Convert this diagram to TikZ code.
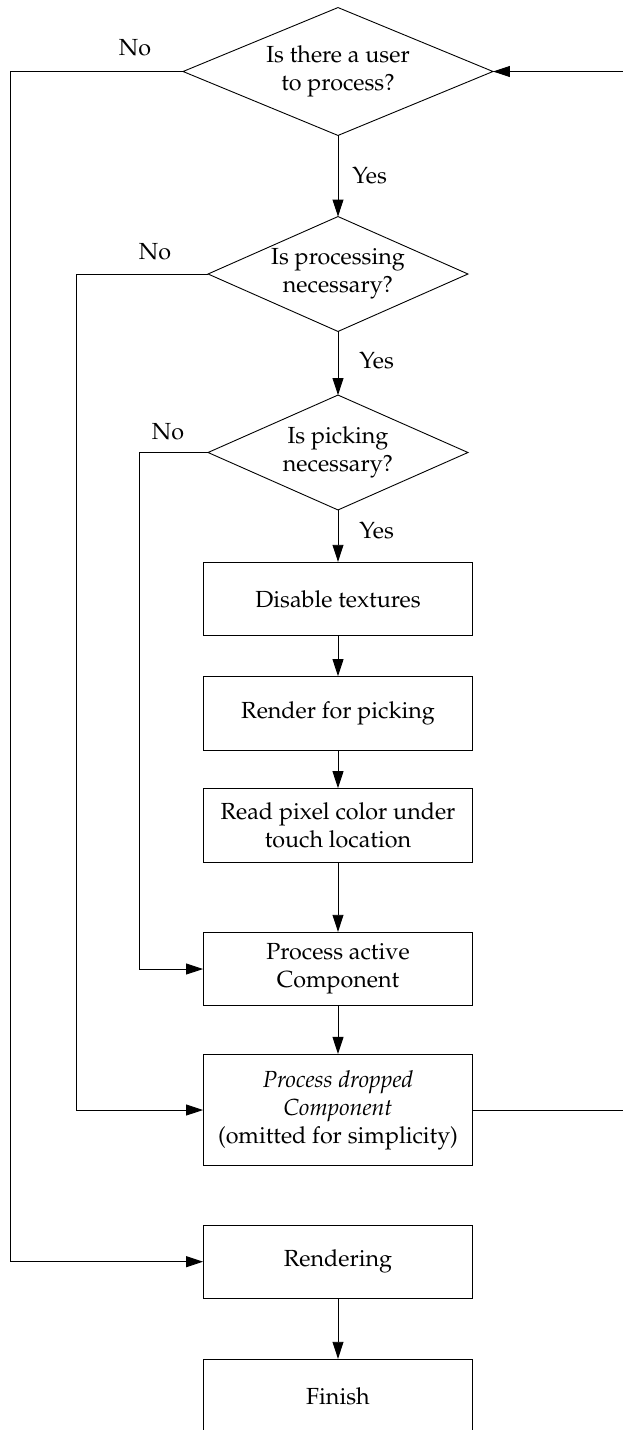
\documentclass[tikz,border=0pt]{standalone}
\usepackage[T1]{fontenc}
\usepackage{mathpazo}
\usetikzlibrary{arrows.meta}
\begin{document}
\begin{tikzpicture}[x=1pt,y=-1pt,
  font=\fontsize{23.3}{28}\selectfont,
  line width=0.9pt,
  stepbox/.style={draw, rectangle, minimum width=269pt, minimum height=73.5pt,
                  inner sep=0pt, align=center},
  % a decision is a bare box whose side midpoints are the diamond's corners
  decision/.style={rectangle, inner sep=0pt, align=center},
  arr/.style={-{Triangle[length=17pt,width=11pt]}},
  lbl/.style={inner sep=0pt}
]
\useasboundingbox (0,0) rectangle (623,1430);
\clip (0,0) rectangle (623,1430);

% decisions
\node[decision, minimum width=309pt, minimum height=127pt] (d1) at (338,71.5)
  {Is there a user\\to process?};
\node[decision, minimum width=259pt, minimum height=114pt] (d2) at (338,274)
  {Is processing\\necessary?};
\node[decision, minimum width=259pt, minimum height=114pt] (d3) at (338,452.5)
  {Is picking\\necessary?};
\foreach \n in {d1,d2,d3}
  \draw (\n.west) -- (\n.north) -- (\n.east) -- (\n.south) -- cycle;

% processing steps
\node[stepbox] (b1) at (338,599) {Disable textures};
\node[stepbox] (b2) at (338,713.3) {Render for picking};
\node[stepbox] (b3) at (338,825.3) {Read pixel color under\\touch location};
\node[stepbox] (b4) at (338,969) {Process active\\Component};
\node[stepbox, minimum height=111.4pt] (b5) at (338,1110)
  {\textit{Process dropped}\\\textit{Component}\\(omitted for simplicity)};
\node[stepbox] (rend) at (338,1261.7) {Rendering};
\node[stepbox] (fin) at (338,1396) {Finish};

% main flow
\draw[arr] (d1.south) -- node[lbl, right, xshift=14pt] {Yes} (d2.north);
\draw[arr] (d2.south) -- node[lbl, right, xshift=21pt, yshift=3pt] {Yes} (d3.north);
\draw[arr] (d3.south) -- node[lbl, right, xshift=21pt, yshift=5pt] {Yes} (b1.north);
\draw[arr] (b1.south) -- (b2.north);
\draw[arr] (b2.south) -- (b3.north);
\draw[arr] (b3.south) -- (b4.north);
\draw[arr] (b4.south) -- (b5.north);
\draw[arr] (rend.south) -- (fin.north);

% "No" branches
\coordinate (l1) at (10.7,71.5);
\coordinate (l2) at (76.3,274);
\coordinate (l3) at (139,452.5);
\draw[arr] (d1.west) -- (l1) |- (rend.west);
\draw[arr] (d2.west) -- (l2) |- (b5.west);
\draw[arr] (d3.west) -- (l3) |- (b4.west);
\node[lbl] (no1) at (135,48) {No};
\node[lbl] (no2) at (155,251.7) {No};
\node[lbl] (no3) at (168,431.7) {No};

% loop back to the first decision
\coordinate (r1) at (630,1110);
\coordinate (r2) at (630,71.5);
\draw (b5.east) -- (r1);
\draw[arr] (r2) -- (d1.east);
\end{tikzpicture}
\end{document}
